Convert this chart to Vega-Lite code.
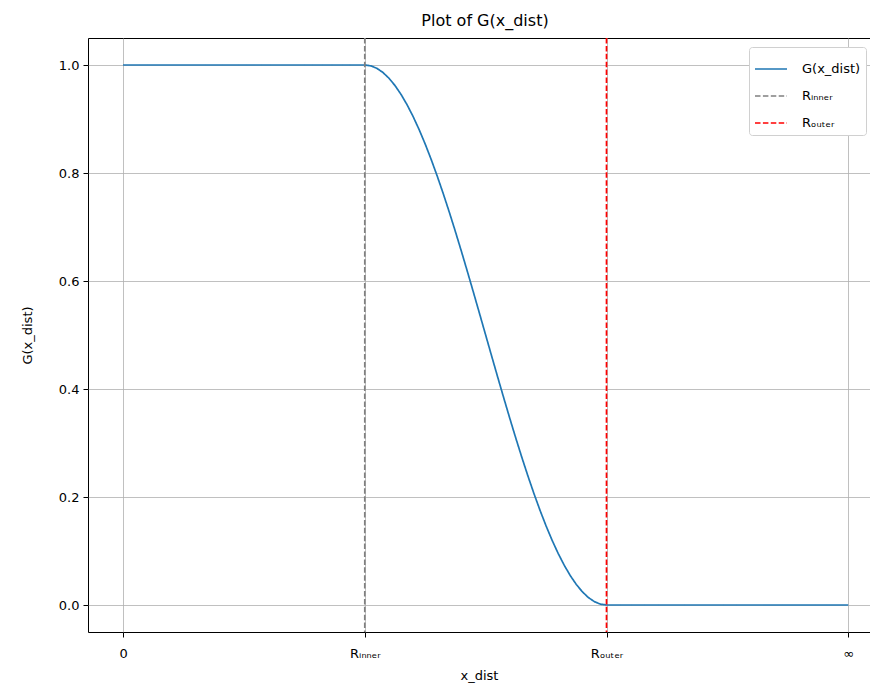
{
  "$schema": "https://vega.github.io/schema/vega-lite/v6.json",
  "autosize": {"type": "none"},
  "padding": {"left": 88, "top": 38, "right": 0, "bottom": 55},
  "width": 782,
  "height": 594,
  "config": {
    "font": "DejaVu Sans",
    "view": {"stroke": "black", "strokeWidth": 1},
    "axis": {
      "domain": false,
      "tickColor": "black",
      "tickSize": 5,
      "labelColor": "black",
      "labelFontSize": 13,
      "titleFontSize": 13,
      "titleFontWeight": "normal",
      "titleColor": "black",
      "grid": true,
      "gridColor": "#b0b0b0",
      "gridWidth": 0.8
    }
  },
  "title": {"text": "Plot of G(x_dist)", "fontSize": 16, "fontWeight": "normal", "color": "black", "offset": 8, "dx": 6},
  "datasets": {
    "curve": [
      {"x": 0, "g": 1, "series": "G(x_dist)"},
      {"x": 1, "g": 1, "series": "G(x_dist)"},
      {"x": 1.025, "g": 0.99846, "series": "G(x_dist)"},
      {"x": 1.05, "g": 0.99384, "series": "G(x_dist)"},
      {"x": 1.075, "g": 0.98618, "series": "G(x_dist)"},
      {"x": 1.1, "g": 0.97553, "series": "G(x_dist)"},
      {"x": 1.125, "g": 0.96194, "series": "G(x_dist)"},
      {"x": 1.15, "g": 0.9455, "series": "G(x_dist)"},
      {"x": 1.175, "g": 0.92632, "series": "G(x_dist)"},
      {"x": 1.2, "g": 0.90451, "series": "G(x_dist)"},
      {"x": 1.225, "g": 0.88020, "series": "G(x_dist)"},
      {"x": 1.25, "g": 0.85355, "series": "G(x_dist)"},
      {"x": 1.275, "g": 0.82472, "series": "G(x_dist)"},
      {"x": 1.3, "g": 0.79389, "series": "G(x_dist)"},
      {"x": 1.325, "g": 0.76125, "series": "G(x_dist)"},
      {"x": 1.35, "g": 0.727, "series": "G(x_dist)"},
      {"x": 1.375, "g": 0.69134, "series": "G(x_dist)"},
      {"x": 1.4, "g": 0.65451, "series": "G(x_dist)"},
      {"x": 1.425, "g": 0.61672, "series": "G(x_dist)"},
      {"x": 1.45, "g": 0.57822, "series": "G(x_dist)"},
      {"x": 1.475, "g": 0.53923, "series": "G(x_dist)"},
      {"x": 1.5, "g": 0.5, "series": "G(x_dist)"},
      {"x": 1.525, "g": 0.46077, "series": "G(x_dist)"},
      {"x": 1.55, "g": 0.42178, "series": "G(x_dist)"},
      {"x": 1.575, "g": 0.38328, "series": "G(x_dist)"},
      {"x": 1.6, "g": 0.34549, "series": "G(x_dist)"},
      {"x": 1.625, "g": 0.30866, "series": "G(x_dist)"},
      {"x": 1.65, "g": 0.273, "series": "G(x_dist)"},
      {"x": 1.675, "g": 0.23875, "series": "G(x_dist)"},
      {"x": 1.7, "g": 0.20611, "series": "G(x_dist)"},
      {"x": 1.725, "g": 0.17528, "series": "G(x_dist)"},
      {"x": 1.75, "g": 0.14645, "series": "G(x_dist)"},
      {"x": 1.775, "g": 0.11980, "series": "G(x_dist)"},
      {"x": 1.8, "g": 0.09549, "series": "G(x_dist)"},
      {"x": 1.825, "g": 0.07368, "series": "G(x_dist)"},
      {"x": 1.85, "g": 0.0545, "series": "G(x_dist)"},
      {"x": 1.875, "g": 0.03806, "series": "G(x_dist)"},
      {"x": 1.9, "g": 0.02447, "series": "G(x_dist)"},
      {"x": 1.925, "g": 0.01382, "series": "G(x_dist)"},
      {"x": 1.95, "g": 0.00616, "series": "G(x_dist)"},
      {"x": 1.975, "g": 0.00154, "series": "G(x_dist)"},
      {"x": 2, "g": 0, "series": "G(x_dist)"},
      {"x": 3, "g": 0, "series": "G(x_dist)"}
    ],
    "lines": [
      {"x": 1, "series": "Rᵢₙₙₑᵣ"},
      {"x": 2, "series": "Rₒᵤₜₑᵣ"}
    ]
  },
  "layer": [
    {
      "data": {"name": "curve"},
      "mark": {"type": "line", "strokeWidth": 1.7, "clip": true},
      "encoding": {
        "x": {
          "field": "x", "type": "quantitative",
          "scale": {"domain": [-0.145, 3.09], "nice": false, "zero": false},
          "axis": {
            "values": [0, 1, 2, 3],
            "labelExpr": "datum.value == 0 ? '0' : datum.value == 1 ? 'Rᵢₙₙₑᵣ' : datum.value == 2 ? 'Rₒᵤₜₑᵣ' : '∞'",
            "labelPadding": 10,
            "title": "x_dist",
            "titlePadding": 9
          }
        },
        "y": {
          "field": "g", "type": "quantitative",
          "scale": {"domain": [-0.05, 1.05], "nice": false, "zero": false},
          "axis": {
            "values": [0, 0.2, 0.4, 0.6, 0.8, 1.0],
            "format": ".1f",
            "labelPadding": 4,
            "title": "G(x_dist)",
            "titlePadding": 24
          }
        },
        "color": {
          "field": "series", "type": "nominal",
          "scale": {"domain": ["G(x_dist)", "Rᵢₙₙₑᵣ", "Rₒᵤₜₑᵣ"], "range": ["#1f77b4", "#808080", "#ff0000"]},
          "legend": {
            "title": null,
            "orient": "none",
            "legendX": 661,
            "legendY": 9,
            "strokeColor": "#d0d0d0",
            "fillColor": "white",
            "cornerRadius": 3,
            "padding": 5,
            "labelFontSize": 13,
            "labelColor": "black",
            "symbolType": "stroke",
            "symbolSize": 1024,
            "symbolStrokeWidth": 1.7,
            "rowPadding": 3,
            "labelOffset": 14
          }
        },
        "strokeDash": {
          "field": "series", "type": "nominal",
          "scale": {"domain": ["G(x_dist)", "Rᵢₙₙₑᵣ", "Rₒᵤₜₑᵣ"], "range": [[1, 0], [5.5, 2.4], [5.5, 2.4]]}
        }
      }
    },
    {
      "data": {"name": "lines"},
      "mark": {"type": "rule", "strokeWidth": 1.7},
      "encoding": {
        "x": {"field": "x", "type": "quantitative"},
        "color": {"field": "series", "type": "nominal"},
        "strokeDash": {"field": "series", "type": "nominal"}
      }
    }
  ]
}
